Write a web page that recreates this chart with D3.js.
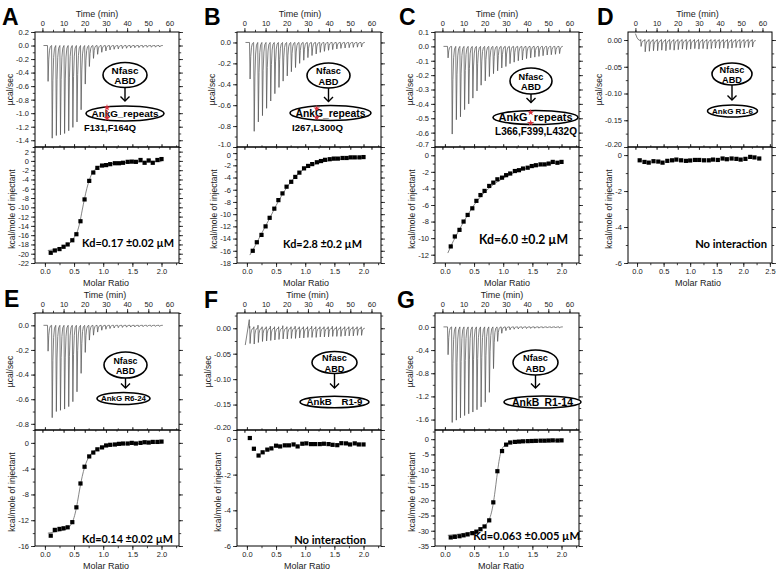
<!DOCTYPE html>
<html><head><meta charset="utf-8">
<script src="https://cdn.jsdelivr.net/npm/d3@7"></script>
<style>
body{margin:0;background:#fff}
svg{display:block}
</style>
</head><body>
<svg id="chart" width="777" height="571"></svg>
<script>
// ---------------- DATA ----------------
const injectionTimes = [2.4,4.35,6.3,8.25,10.2,12.15,14.1,16.05,18.0,19.95,21.9,23.85,25.8,27.75,29.7,31.65,33.6,35.55,37.5,39.45,41.4,43.35,45.3,47.25,49.2,51.15,53.1,55.05];
const timeTicks = [0,10,20,30,40,50,60];
const molarTicks = [0.0,0.5,1.0,1.5,2.0];
const molarTicksD = [0.0,0.5,1.0,1.5,2.0,2.5];

const peaksA = [-0.53,-1.37,-1.33,-1.32,-1.30,-1.26,-1.21,-1.13,-0.95,-0.57,-0.31,-0.19,-0.13,-0.10,-0.08,-0.065,-0.055,-0.05,-0.045,-0.04,-0.035,-0.032,-0.03,-0.028,-0.026,-0.025,-0.024,-0.022];
const peaksB = [-0.35,-0.85,-0.76,-0.70,-0.63,-0.56,-0.49,-0.43,-0.37,-0.32,-0.28,-0.24,-0.20,-0.17,-0.145,-0.125,-0.11,-0.095,-0.085,-0.075,-0.068,-0.062,-0.057,-0.053,-0.05,-0.047,-0.045,-0.043];
const peaksC = [-0.08,-0.61,-0.51,-0.49,-0.44,-0.40,-0.36,-0.31,-0.27,-0.24,-0.21,-0.19,-0.17,-0.15,-0.14,-0.12,-0.11,-0.10,-0.095,-0.085,-0.08,-0.075,-0.07,-0.065,-0.06,-0.058,-0.055,-0.05];
const peaksD = [-0.012,-0.022,-0.021,-0.020,-0.020,-0.019,-0.020,-0.018,-0.019,-0.018,-0.017,-0.018,-0.017,-0.016,-0.017,-0.016,-0.017,-0.016,-0.015,-0.016,-0.015,-0.016,-0.015,-0.014,-0.015,-0.014,-0.014,-0.013];
const upsD   = [0.002,0.002,0.002,0.002,0.002,0.002,0.002,0.002,0.002,0.002,0.002,0.002,0.002,0.002,0.002,0.002,0.002,0.002,0.002,0.002,0.002,0.002,0.002,0.002,0.002,0.002,0.002,0.002];
const leadD  = [[0,0.012],[0.8,0.004],[1.6,0.0]];
const peaksE = [-0.21,-0.75,-0.70,-0.69,-0.68,-0.66,-0.62,-0.54,-0.39,-0.22,-0.12,-0.08,-0.055,-0.04,-0.032,-0.026,-0.022,-0.019,-0.017,-0.015,-0.014,-0.013,-0.012,-0.011,-0.010,-0.010,-0.009,-0.009];
const peaksF = [-0.030,-0.031,-0.028,-0.026,-0.025,-0.024,-0.023,-0.022,-0.021,-0.021,-0.020,-0.020,-0.019,-0.019,-0.018,-0.018,-0.018,-0.017,-0.017,-0.017,-0.016,-0.016,-0.016,-0.015,-0.015,-0.015,-0.014,-0.014];
const upsF   = [0.004,0.003,0.006,0.003,0.003,0.004,0.003,0.003,0.005,0.003,0.003,0.004,0.003,0.003,0.003,0.004,0.003,0.003,0.003,0.003,0.004,0.003,0.003,0.003,0.003,0.003,0.003,0.003];
const leadF  = [[0.4,-0.033],[2.3,0.017]];
const peaksG = [-0.48,-1.65,-1.61,-1.57,-1.53,-1.50,-1.47,-1.43,-1.38,-1.30,-1.13,-0.72,-0.25,-0.11,-0.065,-0.05,-0.04,-0.035,-0.03,-0.028,-0.026,-0.024,-0.022,-0.021,-0.02,-0.02,-0.019,-0.018];

const molar  = [0.10,0.17,0.25,0.32,0.39,0.47,0.54,0.61,0.68,0.76,0.83,0.90,0.98,1.05,1.12,1.20,1.27,1.34,1.42,1.49,1.56,1.64,1.71,1.78,1.85,1.93,2.00];
const molarD = [0.05,0.14,0.22,0.31,0.40,0.48,0.57,0.66,0.74,0.83,0.92,1.00,1.09,1.17,1.26,1.35,1.43,1.52,1.61,1.69,1.78,1.87,1.95,2.04,2.13,2.21,2.30];
const molarF = [0.05,0.12,0.20,0.27,0.35,0.42,0.50,0.57,0.65,0.72,0.80,0.87,0.95,1.02,1.10,1.17,1.25,1.32,1.40,1.47,1.55,1.62,1.70,1.77,1.85,1.92,2.00];

const heatA = [-19.8,-19.3,-19.0,-18.5,-18.0,-17.1,-15.8,-13.0,-8.3,-4.3,-2.5,-1.5,-1.0,-0.9,-0.7,-0.5,-0.5,-0.4,-0.2,-0.15,-0.2,0.2,-0.4,0.1,-0.4,0.2,0.4];
const heatB = [-16.0,-14.6,-13.4,-12.0,-10.6,-9.1,-7.7,-6.6,-5.5,-4.7,-3.9,-3.2,-2.5,-2.1,-1.8,-1.5,-1.3,-1.1,-1.0,-0.9,-0.9,-0.8,-0.8,-0.7,-0.7,-0.7,-0.65];
const heatC = [-11.0,-9.8,-9.0,-8.0,-7.2,-6.4,-5.5,-4.8,-4.3,-3.7,-3.3,-2.9,-2.7,-2.4,-2.2,-1.9,-1.8,-1.6,-1.5,-1.3,-1.2,-1.1,-1.1,-1.0,-0.8,-0.9,-0.8];
const heatD = [-0.29,-0.38,-0.42,-0.34,-0.36,-0.42,-0.32,-0.29,-0.25,-0.29,-0.32,-0.30,-0.27,-0.27,-0.29,-0.29,-0.25,-0.27,-0.19,-0.23,-0.19,-0.21,-0.25,-0.21,-0.10,-0.13,-0.19];
const heatE = [-14.4,-13.5,-13.35,-13.25,-13.1,-12.3,-10.0,-6.3,-3.7,-2.1,-1.5,-1.0,-0.7,-0.4,-0.3,-0.25,-0.15,-0.1,-0.1,0.0,-0.1,0.0,0.1,0.05,0.15,0.15,0.2];
const heatF = [0.05,-0.55,-0.93,-0.75,-0.60,-0.53,-0.38,-0.42,-0.36,-0.36,-0.31,-0.42,-0.27,-0.25,-0.29,-0.29,-0.29,-0.27,-0.29,-0.33,-0.35,-0.24,-0.25,-0.31,-0.25,-0.31,-0.31];
const heatG = [-32.2,-32.0,-31.8,-31.5,-31.2,-30.8,-30.3,-29.5,-28.6,-26.6,-20.7,-10.5,-3.9,-1.8,-1.1,-0.9,-0.8,-0.7,-0.65,-0.6,-0.55,-0.5,-0.5,-0.45,-0.4,-0.45,-0.4];

const fitA = [[0.05,-19.3],[0.2,-19.0],[0.3,-18.6],[0.4,-18.0],[0.46,-17.3],[0.51,-16.3],[0.55,-15.4],[0.6,-13.2],[0.64,-10.6],[0.68,-8.1],[0.72,-5.9],[0.76,-4.2],[0.8,-2.9],[0.85,-1.95],[0.9,-1.4],[1.0,-0.9],[1.2,-0.5],[1.5,-0.3],[2.0,-0.15]];
const fitB = [[0.05,-16.7],[0.1,-15.9],[0.2,-14.1],[0.3,-12.3],[0.4,-10.5],[0.5,-8.6],[0.6,-6.9],[0.7,-5.4],[0.8,-4.2],[0.9,-3.2],[1.0,-2.5],[1.1,-2.0],[1.2,-1.7],[1.4,-1.25],[1.6,-1.0],[1.8,-0.85],[2.0,-0.75]];
const fitC = [[0.05,-11.8],[0.1,-11.0],[0.2,-9.6],[0.3,-8.3],[0.4,-7.1],[0.5,-6.0],[0.6,-5.1],[0.7,-4.35],[0.8,-3.7],[0.9,-3.2],[1.0,-2.75],[1.2,-2.05],[1.4,-1.6],[1.6,-1.3],[1.8,-1.05],[2.0,-0.9]];
const fitE = [[0.05,-14.0],[0.2,-13.8],[0.3,-13.6],[0.38,-13.3],[0.44,-12.8],[0.48,-12.1],[0.52,-10.9],[0.56,-9.1],[0.6,-7.0],[0.64,-5.2],[0.68,-3.8],[0.72,-2.8],[0.76,-2.1],[0.8,-1.6],[0.9,-0.95],[1.0,-0.6],[1.2,-0.3],[1.5,-0.12],[2.0,-0.02]];
const fitG = [[0.05,-31.5],[0.2,-31.2],[0.35,-30.8],[0.5,-30.2],[0.6,-29.5],[0.67,-28.6],[0.72,-27.6],[0.76,-26.3],[0.8,-23.9],[0.83,-21.0],[0.86,-17.0],[0.89,-12.5],[0.92,-8.2],[0.95,-5.0],[0.98,-3.2],[1.02,-2.1],[1.08,-1.4],[1.2,-0.9],[1.5,-0.6],[2.0,-0.4]];

const kdLabels = ["Kd=0.17 \u00B10.02 \u00B5M","Kd=2.8 \u00B10.2 \u00B5M","Kd=6.0 \u00B10.2 \u00B5M","No interaction","Kd=0.14 \u00B10.02 \u00B5M","No interaction","Kd=0.063 \u00B10.005 \u00B5M"];
const ligandNames = ["AnkG_repeats","AnkG_repeats","AnkG_repeats","AnkG R1-6","AnkG R6-24","AnkB\u2002\u2002R1-9","AnkB\u2002R1-14"];
const mutationLabels = ["F131,F164Q","I267,L300Q","L366,F399,L432Q","","","",""];

// ---------------- LAYOUT ----------------
const SANS = '"Liberation Sans", Arial, sans-serif';
const colLeft = [35, 237, 435, 628];
const W = 144;
const rows = [{T:32, M:147, B:263}, {T:313, M:430, B:546}];
const timeDomain = [-3.5, 64.5];
const locale = d3.formatLocale({decimal:".", thousands:",", grouping:[3], currency:["",""], minus:"-"});

const panels = [
 {L:"A", col:0, row:0, lx:2, ly:25, peaks:peaksA, base:0, lead:[[0.5,0]],
  yU:[-1.5,0.2], uMaj:0.2, uMin:0.1, uFmt:".1f",
  yL:[-22,3], lMaj:2, lMin:1, lFmt:"d", xL:[-0.17,2.3], xT:molarTicks,
  mx:molar, hy:heatA, fit:fitA, kd:0, kdR:174, kdY:247, kdW:92,
  timeDx:62, molDx:71,
  e1:{cx:125,cy:75,rx:22,ry:12.5}, e2:{cx:125,cy:113.5,rx:39,ry:7.5}, tip:101, w1:27, w2:67,
  mut:{x:110,y:131,w:52}, stars:{x:107, ys:[107.5,118], line:true}},
 {L:"B", col:1, row:0, lx:204, ly:25, peaks:peaksB, base:0, lead:[[0.5,0]],
  yU:[-1.0,0.1], uMaj:0.2, uMin:0.1, uFmt:".1f",
  yL:[-18,1], lMaj:2, lMin:1, lFmt:"d", xL:[-0.17,2.3], xT:molarTicks,
  mx:molar, hy:heatB, fit:fitB, kd:1, kdR:362, kdY:248, kdW:79,
  timeDx:63, molDx:69,
  e1:{cx:328.5,cy:75.5,rx:21.5,ry:12.5}, e2:{cx:330.5,cy:113,rx:40.5,ry:7.5}, tip:101.5, w1:25, w2:70,
  mut:{x:317.5,y:131,w:51}, stars:{x:316.7, ys:[108.5,117.5]}},
 {L:"C", col:2, row:0, lx:399, ly:25, peaks:peaksC, base:0, lead:[[0.5,0]],
  yU:[-0.7,0.1], uMaj:0.1, uMin:0.05, uFmt:".1f",
  yL:[-13,1], lMaj:2, lMin:1, lFmt:"d", xL:[-0.17,2.3], xT:molarTicks,
  mx:molar, hy:heatC, fit:fitC, kd:2, kdR:568, kdY:244, kdW:89,
  timeDx:62, molDx:72,
  e1:{cx:531,cy:81,rx:21,ry:13}, e2:{cx:535.5,cy:117.5,rx:42.5,ry:7}, tip:102.5, w1:25, w2:74,
  mut:{x:536,y:135,w:82}, stars:{x:530.7, ys:[112.5,123]}},
 {L:"D", col:3, row:0, lx:597, ly:25, peaks:peaksD, ups:upsD, base:-0.001, lead:leadD,
  yU:[-0.2,0.015], uMaj:0.05, uMin:0.025, uFmt:".2f",
  yL:[-6,0.45], lMaj:2, lMin:1, lFmt:"d", xL:[-0.17,2.54], xT:molarTicksD,
  mx:molarD, hy:heatD, fit:null, kd:3, kdR:767, kdY:248, kdW:72,
  timeDx:69.5, molDx:70,
  e1:{cx:732,cy:74,rx:20,ry:11}, e2:{cx:732.5,cy:111,rx:25,ry:6}, tip:100, w1:25, w2:41,
  mut:null, stars:null},
 {L:"E", col:0, row:1, lx:4, ly:307, peaks:peaksE, base:0, lead:[[0.5,0]],
  yU:[-0.85,0.1], uMaj:0.2, uMin:0.1, uFmt:".1f",
  yL:[-16,2], lMaj:4, lMin:2, lFmt:"d", xL:[-0.17,2.3], xT:molarTicks,
  mx:molar, hy:heatE, fit:fitE, kd:4, kdR:173, kdY:543, kdW:91,
  timeDx:70, molDx:71,
  e1:{cx:125.5,cy:365,rx:21.5,ry:13}, e2:{cx:123.5,cy:398.5,rx:26.5,ry:6}, tip:388, w1:24, w2:45,
  mut:null, stars:null},
 {L:"F", col:1, row:1, lx:204, ly:308, peaks:peaksF, ups:upsF, base:0, lead:leadF,
  yU:[-0.2,0.03], uMaj:0.05, uMin:0.025, uFmt:".2f",
  yL:[-6,0.5], lMaj:2, lMin:1, lFmt:"d", xL:[-0.17,2.3], xT:molarTicks,
  mx:molarF, hy:heatF, fit:null, kd:5, kdR:366, kdY:544, kdW:72,
  timeDx:70.5, molDx:70,
  e1:{cx:334.5,cy:362.5,rx:22.5,ry:11}, e2:{cx:334.5,cy:402,rx:34.5,ry:5.8}, tip:388, w1:25, w2:56,
  mut:null, stars:null},
 {L:"G", col:2, row:1, lx:397, ly:308, peaks:peaksG, base:0, lead:[[0.5,0]],
  yU:[-1.78,0.24], uMaj:0.4, uMin:0.2, uFmt:".1f",
  yL:[-35,3], lMaj:5, lMin:2.5, lFmt:"d", xL:[-0.17,2.3], xT:molarTicks,
  mx:molar, hy:heatG, fit:fitG, kd:6, kdR:580, kdY:540, kdW:107,
  timeDx:67, molDx:66,
  e1:{cx:535.5,cy:362.5,rx:22.5,ry:12.5}, e2:{cx:542.5,cy:402,rx:38.5,ry:6}, tip:388, w1:25, w2:61,
  mut:null, stars:null}
];

// ---------------- DRAW ----------------
const svg = d3.select("#chart");

function stepValues(domain, step) {
  const lo = Math.ceil(domain[0]/step - 1e-6), hi = Math.floor(domain[1]/step + 1e-6);
  return d3.range(lo, hi+1).map(k => +(k*step).toFixed(6));
}

function styleAxis(g) {
  g.select(".domain").remove();
  g.selectAll(".tick line").attr("stroke", "#111").attr("stroke-width", 0.8);
  g.attr("font-family", SANS).attr("font-size", 7.5);
  g.selectAll(".tick text").attr("fill", "#222");
}

function addAxis(g, gen, scale, major, minor, fmt, size) {
  const a = g.append("g");
  a.call(gen(scale).tickValues(major).tickSize(size).tickPadding(2).tickFormat(fmt || (() => "")));
  styleAxis(a);
  const b = g.append("g");
  b.call(gen(scale).tickValues(minor).tickSize(size*0.55).tickFormat(() => ""));
  styleAxis(b);
  return a;
}

function fitText(g, x, y, str, width, base, anchor, family) {
  const t = g.append("text").attr("x", x).attr("y", y).attr("text-anchor", anchor || "middle")
    .attr("font-family", family || SANS).attr("font-weight", "bold").attr("font-size", base).attr("fill", "#000").text(str);
  const w = t.node().getComputedTextLength();
  const fs = base * width / w;
  t.attr("font-size", fs);
  return fs;
}

panels.forEach((p, idx) => {
  const L = colLeft[p.col], R = L + W;
  const {T, M, B} = rows[p.row];
  const g = svg.append("g");

  const xt = d3.scaleLinear().domain(timeDomain).range([L, R]);
  const yu = d3.scaleLinear().domain(p.yU).range([M, T]);
  const xm = d3.scaleLinear().domain(p.xL).range([L, R]);
  const yl = d3.scaleLinear().domain(p.yL).range([B, M]);

  const cid = "clip" + p.L;
  svg.append("clipPath").attr("id", cid).append("rect").attr("x", L).attr("y", T).attr("width", W).attr("height", M - T);

  const pts = p.lead.slice();
  injectionTimes.forEach((t, i) => {
    const pk = p.peaks[i], b = p.base, up = p.ups ? p.ups[i] : 0;
    pts.push([t, b]);
    if (up) pts.push([t + 0.12, b + up]);
    pts.push([t + 0.28, pk]);
    pts.push([t + 0.6, b + (pk - b) * 0.38]);
    pts.push([t + 0.95, b + (pk - b) * 0.13]);
    pts.push([t + 1.35, b + (pk - b) * 0.03]);
  });
  pts.push([injectionTimes[injectionTimes.length-1] + 1.8, p.base]);
  g.append("path").attr("clip-path", `url(#${cid})`)
    .attr("d", d3.line().x(d => xt(d[0])).y(d => yu(d[1]))(pts))
    .attr("fill", "none").attr("stroke", "#555").attr("stroke-width", 0.75);

  if (p.fit) {
    g.append("path").attr("d", d3.line().curve(d3.curveMonotoneX).x(d => xm(d[0])).y(d => yl(d[1]))(p.fit))
      .attr("fill", "none").attr("stroke", "#666").attr("stroke-width", 0.8);
  }
  const s = 4.2;
  g.selectAll(null).data(p.mx.map((x, i) => [x, p.hy[i]])).join("rect")
    .attr("x", d => xm(d[0]) - s/2).attr("y", d => yl(d[1]) - s/2)
    .attr("width", s).attr("height", s).attr("fill", "#000");

  g.append("rect").attr("x", L).attr("y", T).attr("width", W).attr("height", M - T)
    .attr("fill", "none").attr("stroke", "#000").attr("stroke-width", 1);
  g.append("rect").attr("x", L).attr("y", M).attr("width", W).attr("height", B - M)
    .attr("fill", "none").attr("stroke", "#000").attr("stroke-width", 1);

  const fu = locale.format(p.uFmt), fl = locale.format(p.lFmt);
  const uMajor = stepValues(p.yU, p.uMaj);
  const upLeft = addAxis(g.append("g").attr("transform", `translate(${L},0)`), d3.axisLeft, yu,
    uMajor, stepValues(p.yU, p.uMin), fu, 4);
  const bottomLabel = uMajor.some(d => Math.abs(yu(d) - M) < 3);
  if (bottomLabel) upLeft.selectAll(".tick").filter(d => Math.abs(yu(d) - M) < 3).select("text").attr("dy", "-0.05em");
  addAxis(g.append("g").attr("transform", `translate(${R},0)`), d3.axisRight, yu,
    uMajor, stepValues(p.yU, p.uMin), null, 4);
  addAxis(g.append("g").attr("transform", `translate(0,${T})`), d3.axisTop, xt,
    timeTicks, stepValues(timeDomain, 5), d => d, 4);
  addAxis(g.append("g").attr("transform", `translate(0,${M})`), d3.axisBottom, xt,
    timeTicks, stepValues(timeDomain, 5), null, 3);
  const loLeft = addAxis(g.append("g").attr("transform", `translate(${L},0)`), d3.axisLeft, yl,
    stepValues(p.yL, p.lMaj), stepValues(p.yL, p.lMin), fl, 4);
  if (bottomLabel) loLeft.selectAll(".tick").filter(d => yl(d) - M < 8).select("text").attr("dy", "0.55em");
  addAxis(g.append("g").attr("transform", `translate(${R},0)`), d3.axisRight, yl,
    stepValues(p.yL, p.lMaj), stepValues(p.yL, p.lMin), null, 4);
  addAxis(g.append("g").attr("transform", `translate(0,${B})`), d3.axisBottom, xm,
    p.xT, stepValues(p.xL, 0.25), locale.format(".1f"), 4);
  addAxis(g.append("g").attr("transform", `translate(0,${M})`), d3.axisTop, xm,
    p.xT, stepValues(p.xL, 0.25), null, 3);

  g.append("text").attr("x", L + p.timeDx).attr("y", T - 15).attr("text-anchor", "middle")
    .attr("font-family", SANS).attr("font-size", 9).attr("fill", "#222").text("Time (min)");
  g.append("text").attr("x", L + p.molDx).attr("y", B + 23).attr("text-anchor", "middle")
    .attr("font-family", SANS).attr("font-size", 9).attr("fill", "#222").text("Molar Ratio");
  const bu = upLeft.node().getBBox(), bl = loLeft.node().getBBox();
  const ux = L + bu.x - 6, lx = L + bl.x - 6;
  g.append("text").attr("transform", `translate(${ux},${(T+M)/2}) rotate(-90)`).attr("text-anchor", "middle")
    .attr("dy", "0.35em").attr("font-family", SANS).attr("font-size", 8.5).attr("fill", "#222").text("\u00B5cal/sec");
  g.append("text").attr("transform", `translate(${lx},${(M+B)/2 + 4}) rotate(-90)`).attr("text-anchor", "middle")
    .attr("dy", "0.35em").attr("font-family", SANS).attr("font-size", 8.5).attr("fill", "#222").text("kcal/mole of injectant");

  g.append("text").attr("x", p.lx).attr("y", p.ly).attr("font-family", SANS).attr("font-weight", "bold")
    .attr("font-size", 23).attr("fill", "#000").text(p.L);

  fitText(g, p.kdR, p.kdY, kdLabels[p.kd], p.kdW, 12, "end", "Lato, 'Open Sans', sans-serif");

  const e1 = p.e1, e2 = p.e2;
  g.append("ellipse").attr("cx", e1.cx).attr("cy", e1.cy).attr("rx", e1.rx).attr("ry", e1.ry)
    .attr("fill", "#fff").attr("stroke", "#000").attr("stroke-width", 1.6);
  const fs1 = fitText(g, e1.cx, e1.cy - 1.5, "Nfasc", p.w1, 9.5);
  g.append("text").attr("x", e1.cx).attr("y", e1.cy + 9).attr("text-anchor", "middle")
    .attr("font-family", SANS).attr("font-weight", "bold").attr("font-size", fs1).text("ABD");
  const ax = e1.cx;
  g.append("line").attr("x1", ax).attr("x2", ax).attr("y1", e1.cy + e1.ry).attr("y2", p.tip)
    .attr("stroke", "#000").attr("stroke-width", 1.4);
  g.append("path").attr("d", `M${ax-4.5},${p.tip-4.5}L${ax},${p.tip}L${ax+4.5},${p.tip-4.5}`)
    .attr("fill", "none").attr("stroke", "#000").attr("stroke-width", 1.4);
  g.append("ellipse").attr("cx", e2.cx).attr("cy", e2.cy).attr("rx", e2.rx).attr("ry", e2.ry)
    .attr("fill", "#fff").attr("stroke", "#000").attr("stroke-width", 1.6);
  const t2 = g.append("text").attr("x", e2.cx).attr("text-anchor", "middle")
    .attr("font-family", SANS).attr("font-weight", "bold").attr("font-size", 10).text(ligandNames[idx]);
  const fs2 = 10 * p.w2 / t2.node().getComputedTextLength();
  t2.attr("font-size", fs2).attr("y", e2.cy + fs2 * 0.36);
  if (p.mut) fitText(g, p.mut.x, p.mut.y, mutationLabels[idx], p.mut.w, 9.3);
  if (p.stars) {
    if (p.stars.line) {
      g.append("line").attr("x1", p.stars.x).attr("x2", p.stars.x).attr("y1", p.stars.ys[0]).attr("y2", p.stars.ys[1])
        .attr("stroke", "#d9303c").attr("stroke-width", 1.6).attr("stroke-dasharray", "2,1");
    }
    p.stars.ys.forEach(y => {
      g.append("path").attr("transform", `translate(${p.stars.x},${y})`)
        .attr("d", d3.symbol(d3.symbolStar, 14)()).attr("fill", "#d9303c");
    });
  }
});
</script>
</body></html>
